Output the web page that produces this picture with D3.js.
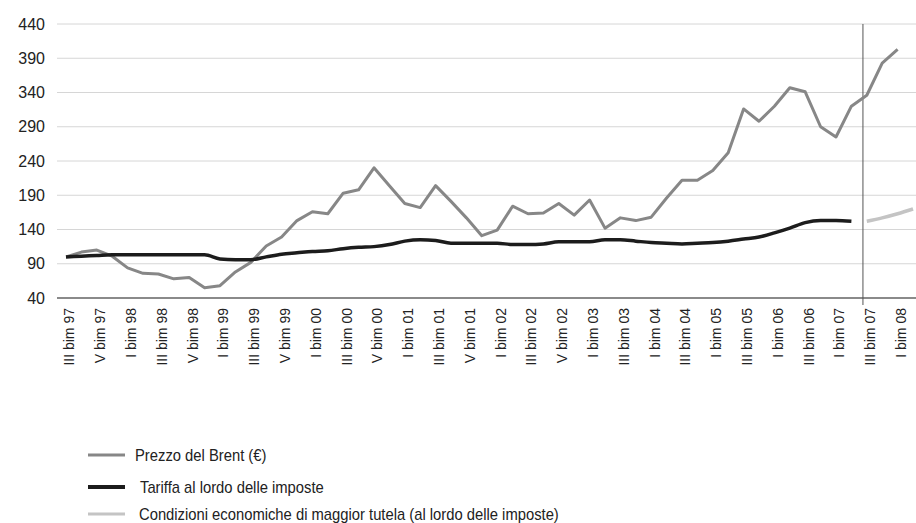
<!DOCTYPE html>
<html>
<head>
<meta charset="utf-8">
<script src="https://cdn.jsdelivr.net/npm/d3@7/dist/d3.min.js"></script>
<style>
  html, body { margin: 0; padding: 0; background: #fff; }
  svg { display: block; }
</style>
</head>
<body>
<svg id="chart" width="916" height="523"></svg>
<script>
// ---- Data ----
const tickLabels = [
  "III bim 97", "V bim 97", "I bim 98", "III bim 98", "V bim 98", "I bim 99",
  "III bim 99", "V bim 99", "I bim 00", "III bim 00", "V bim 00", "I bim 01",
  "III bim 01", "V bim 01", "I bim 02", "III bim 02", "V bim 02", "I bim 03",
  "III bim 03", "I bim 04", "III bim 04", "I bim 05", "III bim 05", "I bim 06",
  "III bim 06", "I bim 07", "III bim 07", "I bim 08"
];
// one value per period; tick labels fall on every second period
const brent = [
  100, 107, 110, 101, 84, 76, 75, 68, 70, 55,
  58, 78, 92, 116, 129, 153, 166, 163, 193, 198,
  230, 204, 178, 172, 204, 181, 157, 131, 139, 174,
  163, 164, 178, 161, 183, 142, 157, 153, 158, 186,
  212, 212, 226, 252, 316, 298, 320, 347, 341, 290,
  275, 320, 336, 383, 403
];
const tariffa = [
  100, 101, 102, 103, 103, 103, 103, 103, 103, 103,
  97, 96, 96, 100, 104, 106, 108, 109, 112, 114,
  115, 118, 123, 125, 124, 120, 120, 120, 120, 118,
  118, 119, 122, 122, 122, 125, 125, 123, 121, 120,
  119, 120, 121, 123, 126, 129, 135, 142, 150, 153,
  153, 152
];
const condizioni = [152, 157, 163, 170];
const condizioniStart = 52;           // period index where this series begins
const splitPeriod = 51.75;            // vertical separator (between periods)
const yTicks = [40, 90, 140, 190, 240, 290, 340, 390, 440];
const legendItems = [
  "Prezzo del Brent (€)",
  "Tariffa al lordo delle imposte",
  "Condizioni economiche di maggior tutela (al lordo delle imposte)"
];

// ---- Layout ----
const svg = d3.select("#chart");
const plotLeft = 57, plotRight = 916;
const x = d3.scaleLinear().domain([0, 54]).range([66, 897.6]);
const y = d3.scaleLinear().domain([40, 440]).range([298, 24]);

const colors = { brent: "#878787", tariffa: "#1c1c1c", cond: "#c4c4c4" };
const font = "'Liberation Sans', Arial, sans-serif";

// gridlines
svg.append("g")
  .selectAll("line")
  .data(yTicks.filter(d => d !== 40))
  .join("line")
  .attr("x1", plotLeft).attr("x2", plotRight)
  .attr("y1", d => y(d)).attr("y2", d => y(d))
  .attr("stroke", "#d6d6d6").attr("stroke-width", 1);

// y axis labels
const yAxis = d3.axisLeft(y).tickValues(yTicks).tickSize(0).tickPadding(0);
const gy = svg.append("g").attr("transform", "translate(45,0)").call(yAxis);
gy.select(".domain").remove();
gy.selectAll("text")
  .attr("font-family", font)
  .attr("font-size", 16).attr("fill", "#222");

// x axis
const tickIdx = tickLabels.map((d, i) => i * 2);
const xAxis = d3.axisBottom(x).tickValues(tickIdx)
  .tickFormat((d, i) => tickLabels[i]).tickSize(0);
const gx = svg.append("g").attr("transform", "translate(0,298)").call(xAxis);
gx.select(".domain").remove();
gx.selectAll(".tick text")
  .attr("font-family", font)
  .attr("font-size", 14).attr("fill", "#222")
  .attr("text-anchor", "end")
  .attr("x", -10).attr("y", 0).attr("dy", "0.35em")
  .attr("transform", "rotate(-90) translate(0,3)");

// baseline
svg.append("line")
  .attr("x1", plotLeft).attr("x2", plotRight)
  .attr("y1", y(40)).attr("y2", y(40))
  .attr("stroke", "#8a8a8a").attr("stroke-width", 2);

// vertical separator
svg.append("line")
  .attr("x1", x(splitPeriod)).attr("x2", x(splitPeriod))
  .attr("y1", y(440)).attr("y2", 305)
  .attr("stroke", "#555").attr("stroke-width", 1);

// lines
const line = d3.line().x(d => x(d.i)).y(d => y(d.v));
const smooth = d3.line().x(d => x(d.i)).y(d => y(d.v)).curve(d3.curveMonotoneX);

svg.append("path")
  .datum(brent.map((v, i) => ({ i, v })))
  .attr("d", line)
  .attr("fill", "none").attr("stroke", colors.brent)
  .attr("stroke-width", 3).attr("stroke-linejoin", "round");

svg.append("path")
  .datum(tariffa.map((v, i) => ({ i, v })))
  .attr("d", smooth)
  .attr("fill", "none").attr("stroke", colors.tariffa)
  .attr("stroke-width", 3.5).attr("stroke-linejoin", "round");

svg.append("path")
  .datum(condizioni.map((v, k) => ({ i: condizioniStart + k, v })))
  .attr("d", smooth)
  .attr("fill", "none").attr("stroke", colors.cond)
  .attr("stroke-width", 3.5);

// legend
const legendColors = [colors.brent, colors.tariffa, colors.cond];
const legendWidths = [3, 4, 3];
const legendY = [455, 487, 514];
const legendTextX = [135, 140, 139];
const lg = svg.append("g");
legendItems.forEach((t, k) => {
  lg.append("line")
    .attr("x1", 88).attr("x2", 125)
    .attr("y1", legendY[k]).attr("y2", legendY[k])
    .attr("stroke", legendColors[k]).attr("stroke-width", legendWidths[k]);
  lg.append("text")
    .attr("transform", `translate(${legendTextX[k]},${legendY[k]}) scale(0.87,1)`)
    .attr("dy", "0.35em")
    .attr("font-family", font)
    .attr("font-size", 17).attr("fill", "#222")
    .text(t);
});
</script>
</body>
</html>
